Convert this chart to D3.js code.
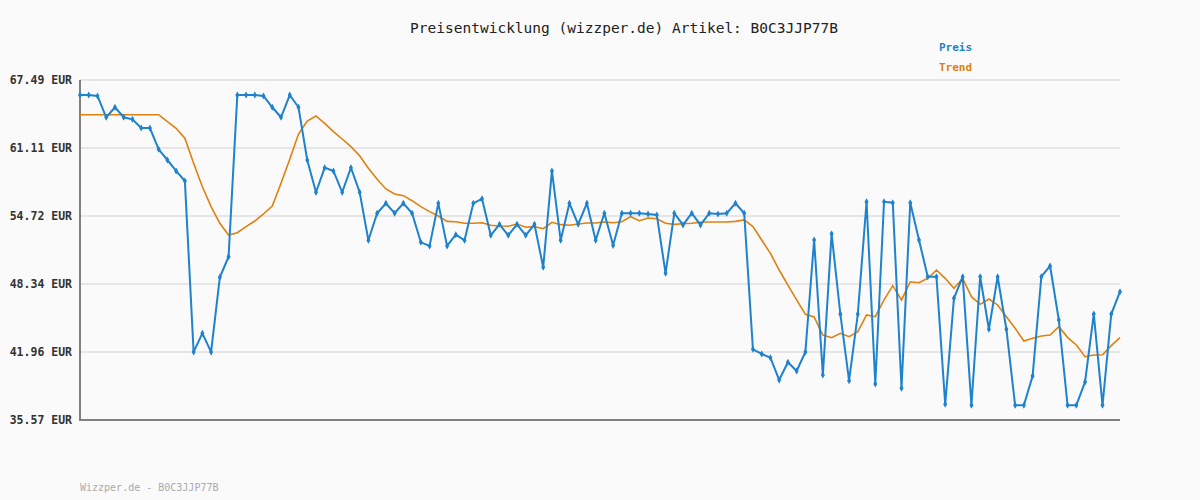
<!DOCTYPE html>
<html><head><meta charset="utf-8">
<script src="https://cdn.jsdelivr.net/npm/d3@7"></script>
<style>body{margin:0;background:#fafafa}svg{display:block}text{font-family:"DejaVu Sans Mono",monospace}</style>
</head><body><svg id="chart" width="1200" height="500"></svg>
<script>
const preis = [66.08,66.08,65.99,63.99,64.93,63.99,63.80,62.98,62.98,60.98,59.98,58.95,58.01,41.96,43.71,41.96,48.97,50.90,66.08,66.08,
66.08,65.99,64.93,63.99,66.08,64.93,59.98,56.95,59.26,58.95,56.95,59.26,56.95,52.44,54.98,55.91,54.98,55.91,54.98,52.25,
51.91,55.91,51.91,52.97,52.44,55.91,56.35,52.91,53.94,52.91,53.94,52.91,53.94,49.91,58.95,52.44,55.91,53.94,55.91,52.44,
54.98,51.97,54.98,54.98,54.98,54.91,54.82,49.34,54.98,53.88,54.98,53.88,54.98,54.91,54.98,55.91,54.98,42.21,41.77,41.42,
39.33,40.99,40.17,41.96,52.47,39.80,53.06,45.52,39.26,45.52,56.06,38.95,56.06,55.97,38.55,55.97,52.47,49.02,49.02,37.04,
47.00,49.02,36.95,49.02,44.09,49.02,44.09,36.95,36.95,39.70,49.02,50.03,44.96,36.95,36.95,39.14,45.52,36.95,45.52,47.62];
const trend = [64.23,64.23,64.23,64.23,64.23,64.23,64.23,64.23,64.23,64.23,63.58,62.96,62.02,59.67,57.47,55.60,54.04,52.94,53.15,53.72,
54.25,54.91,55.66,57.79,60.05,62.42,63.64,64.11,63.42,62.64,61.95,61.23,60.38,59.20,58.17,57.26,56.79,56.63,56.16,55.60,
55.13,54.72,54.22,54.18,54.04,54.04,54.09,53.85,53.78,53.76,53.97,53.66,53.72,53.53,54.13,53.91,53.85,53.97,54.06,54.06,
54.16,54.09,54.18,54.66,54.28,54.53,54.47,54.04,53.94,54.00,54.04,54.13,54.16,54.16,54.16,54.22,54.35,53.72,52.47,51.22,
49.65,48.24,46.84,45.49,45.24,43.55,43.30,43.71,43.39,43.86,45.43,45.27,46.84,48.18,46.84,48.55,48.46,48.87,49.65,48.87,
47.93,48.87,47.15,46.43,46.93,46.37,45.27,44.18,42.99,43.24,43.46,43.55,44.33,43.33,42.61,41.51,41.67,41.70,42.55,43.30];
const ticks = [35.57,41.96,48.34,54.72,61.11,67.49];
const title = "Preisentwicklung (wizzper.de) Artikel: B0C3JJP77B";
const footer = "Wizzper.de - B0C3JJP77B";
const blue = "#1f82cc", orange = "#e0800f";

const svg = d3.select("#chart");
const x = d3.scaleLinear().domain([0, preis.length - 1]).range([80, 1120]);
const y = d3.scaleLinear().domain([35.57, 67.49]).range([420, 80]);

svg.append("rect").attr("width", 1200).attr("height", 500).attr("fill", "#fafafa");

// grid
svg.append("g").selectAll("line").data(ticks.slice(1)).enter().append("line")
  .attr("x1", 80).attr("x2", 1120).attr("y1", d => y(d)).attr("y2", d => y(d))
  .attr("stroke", "#e6e6e6").attr("stroke-width", 2);

// y axis
const ya = svg.append("g").attr("transform", "translate(80,0)")
  .call(d3.axisLeft(y).tickValues(ticks).tickSize(0).tickPadding(8).tickFormat(d => d.toFixed(2) + " EUR"));
ya.select(".domain").remove();
ya.selectAll("text").attr("font-family", "DejaVu Sans Mono").attr("font-size", 11.5)
  .attr("font-weight", "bold").attr("fill", "#333");

svg.append("path").attr("d", "M80,80V420H1120").attr("fill", "none")
  .attr("stroke", "#808080").attr("stroke-width", 2);

const line = d3.line().x((d, i) => x(i)).y(d => y(d));
svg.append("path").datum(trend).attr("d", line).attr("fill", "none")
  .attr("stroke", orange).attr("stroke-width", 1.6);
svg.append("path").datum(preis).attr("d", line).attr("fill", "none")
  .attr("stroke", blue).attr("stroke-width", 2);
svg.append("g").selectAll("path").data(preis).enter().append("path")
  .attr("d", d3.symbol(d3.symbolDiamond, 14))
  .attr("transform", (d, i) => `translate(${x(i)},${y(d)})`)
  .attr("fill", blue);

svg.append("text").attr("x", 624).attr("y", 33).attr("text-anchor", "middle")
  .attr("font-size", 14.5).attr("fill", "#222").text(title);
svg.append("text").attr("x", 939).attr("y", 51).attr("font-size", 11)
  .attr("font-weight", "bold").attr("fill", blue).text("Preis");
svg.append("text").attr("x", 939).attr("y", 71).attr("font-size", 11)
  .attr("font-weight", "bold").attr("fill", orange).text("Trend");
svg.append("text").attr("x", 80).attr("y", 491).attr("font-size", 10)
  .attr("fill", "#aaa").text(footer);
</script></body></html>
